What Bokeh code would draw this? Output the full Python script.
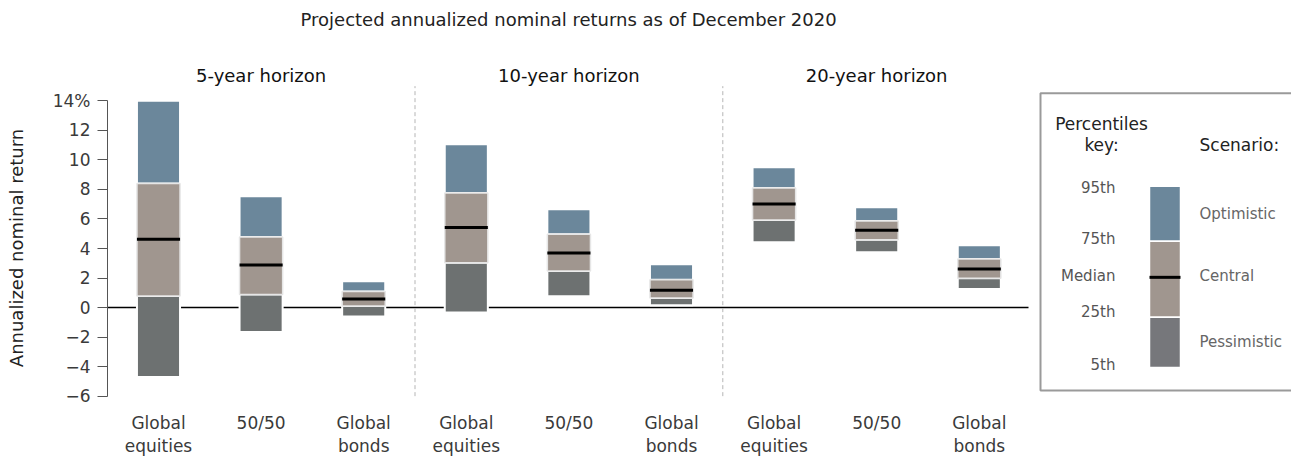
from bokeh.plotting import figure
from bokeh.models import Range1d, FixedTicker
from bokeh.embed import file_html
from bokeh.resources import INLINE
from bokeh.core.properties import value

# ---------------- data ----------------
horizons = ["5-year horizon", "10-year horizon", "20-year horizon"]
assets = ["Global\nequities", "50/50", "Global\nbonds"]
p5 = [-4.70, -1.65, -0.60, -0.33, 0.76, 0.15, 4.42, 3.74, 1.25]
p25 = [0.78, 0.89, 0.10, 3.04, 2.48, 0.65, 5.93, 4.60, 1.98]
median = [4.62, 2.88, 0.58, 5.42, 3.70, 1.17, 7.02, 5.23, 2.61]
p75 = [8.40, 4.78, 1.08, 7.76, 4.96, 1.89, 8.10, 5.87, 3.29]
p95 = [14.00, 7.54, 1.78, 11.06, 6.66, 2.93, 9.50, 6.79, 4.22]
y_ticks = [-6, -4, -2, 0, 2, 4, 6, 8, 10, 12, 14]
title_text = "Projected annualized nominal returns as of December 2020"
y_label = "Annualized nominal return"
legend_pct = ["95th", "75th", "Median", "25th", "5th"]
legend_scen = ["Optimistic", "Central", "Pessimistic"]

# ---------------- style ----------------
FONT = "DejaVu Sans"
OPT = "#6b879b"
CEN = "#a0968f"
PES = "#6d7171"
DARK = "#222222"
MID = "#3a3a3a"

# page-pixel -> data helpers (layout only)
PX0, PXS = 158.0, 102.6
PY0, PYS = 307.2, 14.75
FRAME_TOP = 38.4
def dx(px):
    return (px - PX0) / PXS
def dy(py):
    return (PY0 - py) / PYS

xs = list(range(len(p5)))
BW = 0.42

p = figure(width=1291, height=457, output_backend="svg", toolbar_location=None,
           x_range=Range1d(dx(107), dx(1291)), y_range=Range1d(dy(457), dy(FRAME_TOP)),
           x_axis_location=None,
           min_border_left=107, min_border_right=0, min_border_top=0,
           min_border_bottom=0, title=title_text)
p.outline_line_color = None
p.xgrid.visible = False
p.ygrid.visible = False
p.background_fill_color = "white"
p.border_fill_color = "white"

# main title
p.title.align = "left"
p.title.offset = 193
p.title.standoff = 15
p.title.vertical_align = "middle"
p.title.text_font = FONT
p.title.text_font_size = "18px"
p.title.text_font_style = "normal"
p.title.text_color = DARK

# y axis
ya = p.yaxis[0]
ya.ticker = FixedTicker(ticks=y_ticks)
ya.bounds = (-6, 14)
ya.major_label_overrides = {t: (f"{t}%" if t == 14 else str(t).replace("-", "\u2212")) for t in y_ticks}
ya.axis_line_color = "#555555"
ya.major_tick_line_color = "#555555"
ya.major_tick_out = 10
ya.major_tick_in = 0
ya.minor_tick_line_color = None
ya.major_label_standoff = 7
ya.major_label_text_font = FONT
ya.major_label_text_font_size = "17px"
ya.major_label_text_color = MID
ya.axis_label = y_label
ya.axis_label_text_font = FONT
ya.axis_label_text_font_size = "18px"
ya.axis_label_text_font_style = "normal"
ya.axis_label_text_color = DARK
ya.axis_label_standoff = 23

# category labels under the bars
p.text(x=xs, y=[dy(413)] * len(xs), text=[assets[i % 3] for i in xs], text_align="center",
       text_baseline="top", text_line_height=1.15, text_font=value(FONT),
       text_font_size="17px", text_color=MID)

# zero line and separators
p.segment(x0=[dx(107)], y0=[0], x1=[dx(1028)], y1=[0], line_color="black", line_width=1.5)
p.segment(x0=[2.5, 5.5], y0=[-6, -6], x1=[2.5, 5.5], y1=[dy(86), dy(86)],
          line_color="#b5b5b5", line_width=1, line_dash="4 3")

# bars
p.vbar(x=xs, bottom=p5, top=p25, width=BW, fill_color=PES, line_color="white", line_width=2)
p.vbar(x=xs, bottom=p75, top=p95, width=BW, fill_color=OPT, line_color="white", line_width=2)
p.vbar(x=xs, bottom=p25, top=p75, width=BW, fill_color=CEN, line_color="#e6e6e6", line_width=1.5)
p.rect(x=xs, y=median, width=BW, height=3, height_units="screen", fill_color="black", line_color=None)

# horizon titles
p.text(x=[1, 4, 7], y=[dy(75)] * 3, text=horizons, text_align="center", text_baseline="middle",
       text_font=value(FONT), text_font_size="18px", text_color="#111111")

# legend box
p.quad(left=[dx(1040)], right=[dx(1300)], top=[dy(93)], bottom=[dy(390)],
       fill_color=None, line_color="#9a9a9a", line_width=2)
lx, lw = dx(1164.5), 31 / PXS
ly = [dy(186), dy(241), dy(277), dy(317), dy(367)]
p.vbar(x=[lx], bottom=[ly[1]], top=[ly[0]], width=lw, fill_color=OPT, line_color="white", line_width=1.5)
p.vbar(x=[lx], bottom=[ly[3]], top=[ly[1]], width=lw, fill_color=CEN, line_color="white", line_width=1.5)
p.vbar(x=[lx], bottom=[ly[4]], top=[ly[3]], width=lw, fill_color="#76777b", line_color="white", line_width=1.5)
p.rect(x=[lx], y=[ly[2]], width=lw, height=3, height_units="screen", fill_color="black", line_color=None)

p.text(x=[dx(1101)] * 2, y=[dy(124), dy(145)], text=["Percentiles", "key:"], text_align="center",
       text_baseline="middle", text_font=value(FONT), text_font_size="17px", text_color=DARK)
p.text(x=[dx(1199)], y=[dy(145)], text=["Scenario:"], text_align="left",
       text_baseline="middle", text_font=value(FONT), text_font_size="17px", text_color=DARK)
p.text(x=[dx(1115)] * 5, y=[dy(188), dy(239), dy(276), dy(312), dy(365)], text=legend_pct,
       text_align="right", text_baseline="middle", text_font=value(FONT),
       text_font_size="15px", text_color="#555555")
p.text(x=[dx(1199)] * 3, y=[dy(214), dy(276), dy(342)], text=legend_scen,
       text_align="left", text_baseline="middle", text_font=value(FONT),
       text_font_size="15px", text_color="#666666")

open("out.html", "w").write(file_html(p, INLINE))
